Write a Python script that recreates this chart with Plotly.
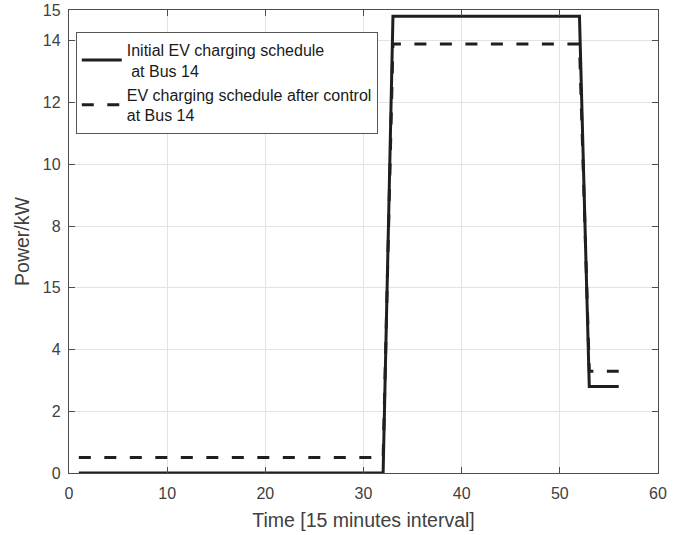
import plotly.graph_objects as go

# Time steps (15-minute intervals)
time_initial = [1, 32, 33, 52, 53, 56]
power_initial = [0, 0, 14.8, 14.8, 2.8, 2.8]

time_after = [1, 32, 33, 52, 53, 56]
power_after = [0.5, 0.5, 13.9, 13.9, 3.3, 3.3]

x_ticks = [0, 10, 20, 30, 40, 50, 60]
y_ticks = [0, 2, 4, 6, 8, 10, 12, 14, 15]
y_tick_labels = ["0", "2", "4", "15", "8", "10", "12", "14", "15"]

line_color = "#1f1f1f"
axis_color = "#4d4d4d"
text_color = "#404040"
font_family = "Liberation Sans, Arial, sans-serif"

fig = go.Figure()
fig.add_trace(go.Scatter(
    x=time_initial, y=power_initial, mode="lines",
    name="Initial EV charging schedule<br> at Bus 14",
    line=dict(color=line_color, width=3),
))
fig.add_trace(go.Scatter(
    x=time_after, y=power_after, mode="lines",
    name="EV charging schedule after control<br>at Bus 14",
    line=dict(color=line_color, width=3, dash="12px,13.5px"),
))

axis_common = dict(
    showline=True, linecolor=axis_color, linewidth=1.3,
    mirror="ticks", ticks="inside", ticklen=6, tickcolor=axis_color, tickwidth=1,
    showgrid=True, gridcolor="#e3e3e3", gridwidth=1,
    zeroline=False, automargin=False, ticklabeloverflow="allow",
    tickfont=dict(family=font_family, size=16, color=text_color),
)

fig.update_layout(
    width=686, height=535,
    margin=dict(l=69, r=28, t=10, b=62),
    paper_bgcolor="white", plot_bgcolor="white",
    font=dict(family=font_family, color=text_color),
    showlegend=True,
    legend=dict(
        x=0.0115, y=0.953, xanchor="left", yanchor="top",
        bgcolor="white", bordercolor="#555555", borderwidth=1,
        font=dict(family=font_family, size=16, color="#1a1a1a"),
        itemwidth=40, tracegroupgap=0,
    ),
    xaxis=dict(
        range=[0, 60], tickvals=x_ticks, ticklabelstandoff=6,
        title=dict(text="Time [15 minutes interval]", standoff=12,
                   font=dict(family=font_family, size=19.5, color=text_color)),
        **axis_common,
    ),
    yaxis=dict(
        range=[0, 15], tickvals=y_ticks, ticktext=y_tick_labels, ticklabelstandoff=4,
        title=dict(text="Power/kW", standoff=8,
                   font=dict(family=font_family, size=19.5, color=text_color)),
        **axis_common,
    ),
)

fig.write_html("out.html", config={"displayModeBar": False},
               post_script="document.body.style.margin='0px';")
